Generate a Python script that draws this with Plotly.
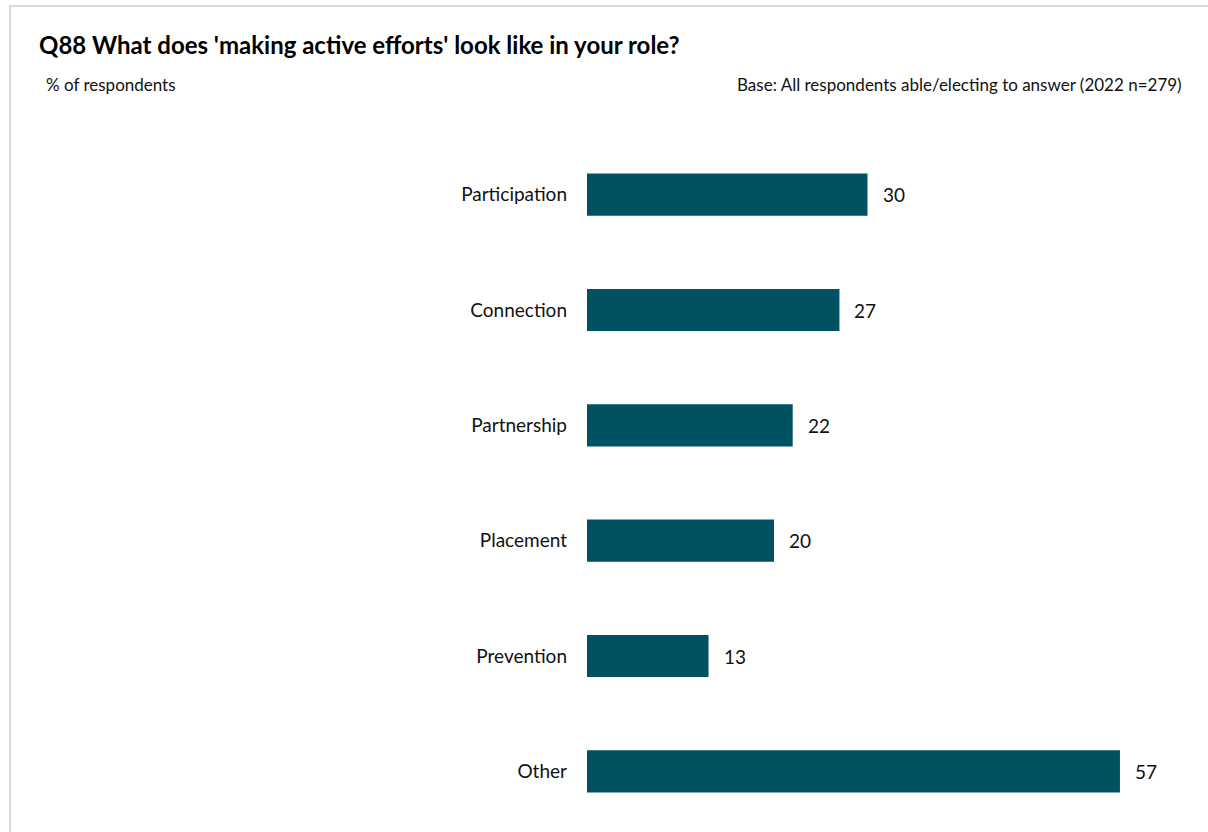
import plotly.graph_objects as go

categories = ["Participation", "Connection", "Partnership", "Placement", "Prevention", "Other"]
values = [30, 27, 22, 20, 13, 57]
title_text = "Q88 What does 'making active efforts' look like in your role?"
subtitle_left = "% of respondents"
subtitle_right = "Base: All respondents able/electing to answer (2022 n=279)"

W, H = 1208, 832
plot_left, plot_right, plot_top, plot_bottom = 587, 1148, 137, 829
L = plot_left
R = W - plot_right
T = plot_top
B = H - plot_bottom
pw = W - L - R
ph = H - T - B

def px_x(p):
    return (p - L) / pw

def px_y(p):
    return (H - B - p) / ph

FONT = "Lato, Calibri, Carlito, sans-serif"
BAR = "#005263"

fig = go.Figure(go.Bar(
    x=values, y=categories, orientation="h",
    marker=dict(color=BAR, line=dict(width=0)),
    width=0.365, hoverinfo="x+y",
))

annotations = [
    dict(x=v, y=c, xref="x", yref="y", text=str(v), showarrow=False,
         xanchor="left", yanchor="middle", xshift=13,
         font=dict(size=19, color="#111111", family=FONT))
    for c, v in zip(categories, values)
]
annotations += [
    dict(text="<b>" + title_text + "</b>", xref="paper", yref="paper",
         x=px_x(37), y=px_y(45), xanchor="left", yanchor="middle", showarrow=False,
         font=dict(size=24, color="#000000", family=FONT)),
    dict(text=subtitle_left, xref="paper", yref="paper",
         x=px_x(44), y=px_y(84), xanchor="left", yanchor="middle", showarrow=False,
         font=dict(size=17, color="#111111", family=FONT)),
    dict(text=subtitle_right, xref="paper", yref="paper",
         x=px_x(1184), y=px_y(84), xanchor="right", yanchor="middle", showarrow=False,
         font=dict(size=17, color="#111111", family=FONT)),
]

fig.update_layout(
    width=W, height=H,
    margin=dict(l=L, r=R, t=T, b=B),
    paper_bgcolor="white", plot_bgcolor="white",
    font=dict(family=FONT, color="#111111"),
    showlegend=False,
    xaxis=dict(range=[0, 60], visible=False, fixedrange=True),
    yaxis=dict(autorange="reversed", showline=False, showgrid=False, zeroline=False,
               fixedrange=True, ticks="", ticklabelstandoff=19,
               tickfont=dict(size=19, color="#111111", family=FONT)),
    shapes=[dict(type="rect", xref="paper", yref="paper",
                 x0=px_x(10), x1=px_x(1240), y0=px_y(870), y1=px_y(6),
                 line=dict(color="#d9d9d9", width=2), fillcolor="rgba(0,0,0,0)", layer="below")],
    annotations=annotations,
)

fig.write_html("out.html",
               config={"displayModeBar": False},
               post_script="document.body.style.margin='0';document.body.style.overflow='hidden';")
